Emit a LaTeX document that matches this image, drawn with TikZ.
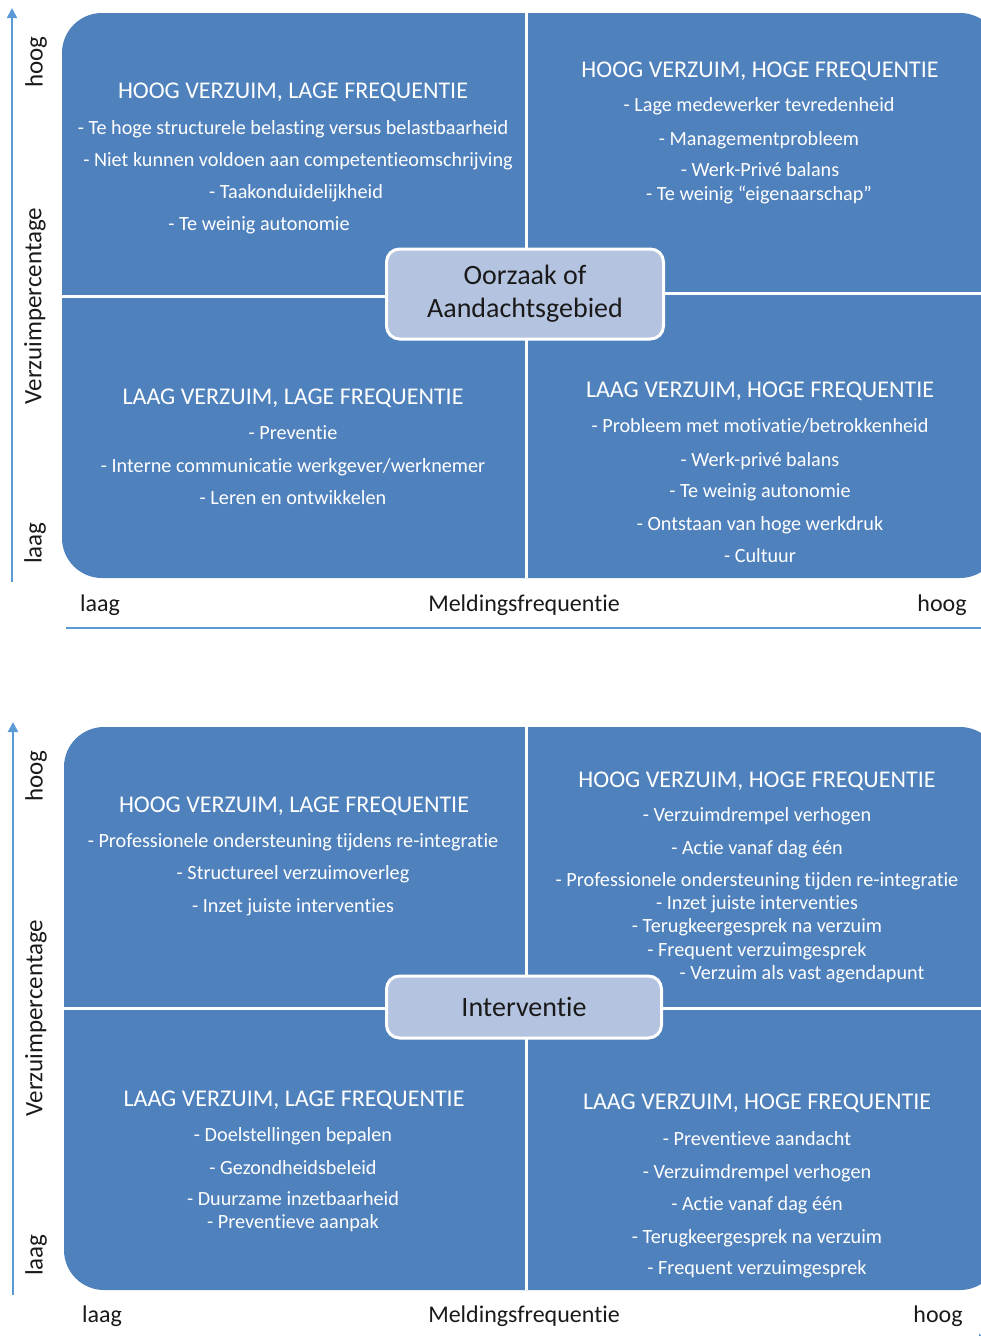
\documentclass[tikz,border=0pt]{standalone}
\usepackage{fontspec}
\setmainfont{Carlito}[Ligatures=NoCommon]
\usetikzlibrary{arrows.meta}
\definecolor{qblue}{HTML}{4F81BD}
\definecolor{cfill}{HTML}{B4C3DF}
\definecolor{axblue}{HTML}{5B9BD5}
\definecolor{labtext}{HTML}{1A1A1A}
\begin{document}
\begin{tikzpicture}[x=1pt,y=-1pt,
  quadfill/.style={fill=qblue, rounded corners=40pt},
  divider/.style={draw=white, line width=3pt},
  cbox/.style={draw=white, line width=3pt, fill=cfill, rounded corners=13pt, align=center,
    text=labtext, font=\fontsize{28}{33}\selectfont, inner sep=0pt},
  head/.style={text=white, font=\fontsize{24}{28}\selectfont, anchor=base, yshift=-8pt, inner sep=0pt},
  item/.style={text=white, font=\fontsize{20.2}{24}\selectfont, anchor=base, yshift=-6.5pt, inner sep=0pt},
  axlab/.style={text=labtext, font=\fontsize{24}{28}\selectfont, inner sep=0pt},
  vlab/.style={text=labtext, font=\fontsize{25}{28}\selectfont, inner sep=0pt, rotate=90},
  axis/.style={draw=axblue, line width=2pt},
  axarrow/.style={axis, -{Triangle[length=10pt,width=10pt]}}
]
\useasboundingbox (0,0) rectangle (981,1336);
\clip (0,0) rectangle (981,1336);

% ================= TOP DIAGRAM =================
\fill[quadfill] (62,13) rectangle (1000,578);
\coordinate (t-top) at (526,13);
\coordinate (t-bot) at (526,578);
\coordinate (t-left) at (62,296);
\coordinate (t-mid) at (526,296);
\coordinate (t-midr) at (526,293);
\coordinate (t-right) at (1000,293);
\draw[divider] (t-top) -- (t-bot);
\draw[divider] (t-left) -- (t-mid);
\draw[divider] (t-midr) -- (t-right);
\node[cbox, minimum width=277pt, minimum height=90pt] (c1) at (525,294) {Oorzaak of\\Aandachtsgebied};

% top-left
\node[head] (t1h) at (293,90) {HOOG VERZUIM, LAGE FREQUENTIE};
\node[item] (t1a) at (293,128) {- Te hoge structurele belasting versus belastbaarheid};
\node[item] (t1b) at (298,160) {- Niet kunnen voldoen aan competentieomschrijving};
\node[item] (t1c) at (296,192) {- Taakonduidelijkheid};
\node[item] (t1d) at (259,224) {- Te weinig autonomie};
% top-right
\node[head] (t2h) at (760,69) {HOOG VERZUIM, HOGE FREQUENTIE};
\node[item] (t2a) at (759,105) {- Lage medewerker tevredenheid};
\node[item] (t2b) at (759,139) {- Managementprobleem};
\node[item] (t2c) at (760,170) {- Werk-Privé balans};
\node[item] (t2d) at (759,194) {- Te weinig “eigenaarschap”};
% bottom-left
\node[head] (t3h) at (293,396) {LAAG VERZUIM, LAGE FREQUENTIE};
\node[item] (t3a) at (293,433) {- Preventie};
\node[item] (t3b) at (293,466) {- Interne communicatie werkgever/werknemer};
\node[item] (t3c) at (293,498) {- Leren en ontwikkelen};
% bottom-right
\node[head] (t4h) at (760,389) {LAAG VERZUIM, HOGE FREQUENTIE};
\node[item] (t4a) at (760,426) {- Probleem met motivatie/betrokkenheid};
\node[item] (t4b) at (760,460) {- Werk-privé balans};
\node[item] (t4c) at (760,491) {- Te weinig autonomie};
\node[item] (t4d) at (760,524) {- Ontstaan van hoge werkdruk};
\node[item] (t4e) at (760,556) {- Cultuur};

% axes
\coordinate (ty0) at (12,582);
\coordinate (ty1) at (12,8);
\draw[axarrow] (ty0) -- (ty1);
\coordinate (tx0) at (66,628);
\coordinate (tx1) at (1000,628);
\draw[axis] (tx0) -- (tx1);
\node[vlab] (tv1) at (36,62) {hoog};
\node[vlab] (tv2) at (35,306) {Verzuimpercentage};
\node[vlab] (tv3) at (35,543) {laag};
\node[axlab] (th1) at (100,605) {laag};
\node[axlab] (th2) at (524,605) {Meldingsfrequentie};
\node[axlab] (th3) at (942,605) {hoog};

% ================= BOTTOM DIAGRAM =================
\fill[quadfill] (64,727) rectangle (1000,1290);
\coordinate (b-top) at (526,727);
\coordinate (b-bot) at (526,1290);
\coordinate (b-left) at (64,1008);
\coordinate (b-right) at (1000,1008);
\draw[divider] (b-top) -- (b-bot);
\draw[divider] (b-left) -- (b-right);
\node[cbox, minimum width=275pt, minimum height=62pt] (c2) at (524,1007) {Interventie};

% top-left
\node[head] (b1h) at (294,804) {HOOG VERZUIM, LAGE FREQUENTIE};
\node[item] (b1a) at (293,841) {- Professionele ondersteuning tijdens re-integratie};
\node[item] (b1b) at (293,873) {- Structureel verzuimoverleg};
\node[item] (b1c) at (293,906) {- Inzet juiste interventies};
% top-right
\node[head] (b2h) at (757,779) {HOOG VERZUIM, HOGE FREQUENTIE};
\node[item] (b2a) at (757,815) {- Verzuimdrempel verhogen};
\node[item] (b2b) at (757,848) {- Actie vanaf dag één};
\node[item] (b2c) at (757,880) {- Professionele ondersteuning tijden re-integratie};
\node[item] (b2d) at (757,903) {- Inzet juiste interventies};
\node[item] (b2e) at (757,926) {- Terugkeergesprek na verzuim};
\node[item] (b2f) at (757,950) {- Frequent verzuimgesprek};
\node[item] (b2g) at (802,973) {- Verzuim als vast agendapunt};
% bottom-left
\node[head] (b3h) at (294,1098) {LAAG VERZUIM, LAGE FREQUENTIE};
\node[item] (b3a) at (293,1135) {- Doelstellingen bepalen};
\node[item] (b3b) at (293,1168) {- Gezondheidsbeleid};
\node[item] (b3c) at (293,1199) {- Duurzame inzetbaarheid};
\node[item] (b3d) at (293,1222) {- Preventieve aanpak};
% bottom-right
\node[head] (b4h) at (757,1101) {LAAG VERZUIM, HOGE FREQUENTIE};
\node[item] (b4a) at (757,1139) {- Preventieve aandacht};
\node[item] (b4b) at (757,1172) {- Verzuimdrempel verhogen};
\node[item] (b4c) at (757,1204) {- Actie vanaf dag één};
\node[item] (b4d) at (757,1237) {- Terugkeergesprek na verzuim};
\node[item] (b4e) at (757,1268) {- Frequent verzuimgesprek};

% axes
\coordinate (by0) at (13,1295);
\coordinate (by1) at (13,722);
\draw[axarrow] (by0) -- (by1);
\coordinate (bx0) at (66,1339);
\coordinate (bx1) at (989,1339);
\draw[axarrow] (bx0) -- (bx1);
\node[vlab] (bv1) at (36,776) {hoog};
\node[vlab] (bv2) at (36,1018) {Verzuimpercentage};
\node[vlab] (bv3) at (36,1255) {laag};
\node[axlab] (bh1) at (102,1316) {laag};
\node[axlab] (bh2) at (524,1316) {Meldingsfrequentie};
\node[axlab] (bh3) at (938,1316) {hoog};
\end{tikzpicture}
\end{document}
